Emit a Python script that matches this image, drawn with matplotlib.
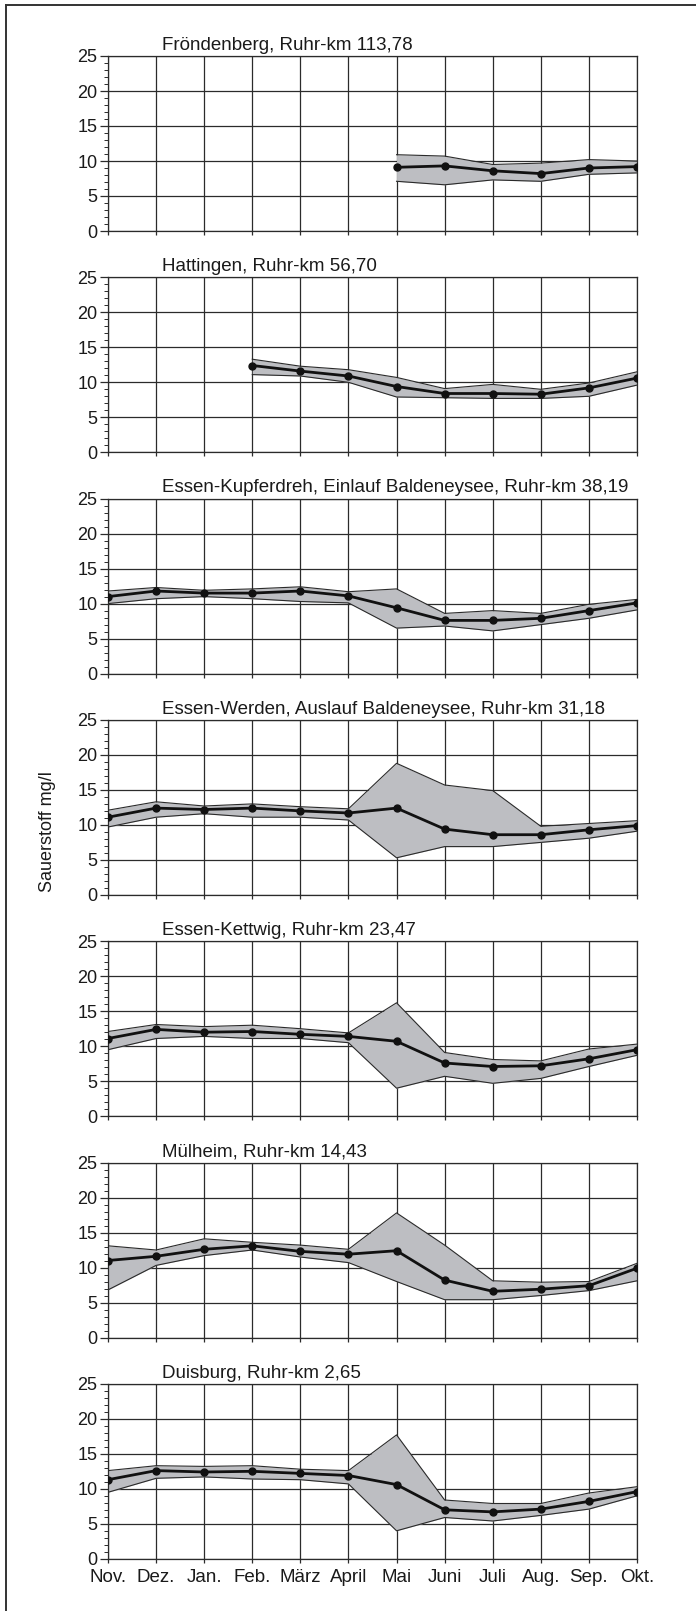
import matplotlib
matplotlib.use("Agg")
import matplotlib.pyplot as plt
from matplotlib.lines import Line2D
from matplotlib.ticker import MultipleLocator
import numpy as np

plt.rcParams['font.family'] = ['Liberation Sans', 'DejaVu Sans']

monate = ['Nov.', 'Dez.', 'Jan.', 'Feb.', 'März', 'April', 'Mai', 'Juni', 'Juli', 'Aug.', 'Sep.', 'Okt.']

# Messstellen (Titel) und Werte: Mittel, Maximum, Minimum  (None = keine Messung)
titel = [
    'Fröndenberg, Ruhr-km 113,78',
    'Hattingen, Ruhr-km 56,70',
    'Essen-Kupferdreh, Einlauf Baldeneysee, Ruhr-km 38,19',
    'Essen-Werden, Auslauf Baldeneysee, Ruhr-km 31,18',
    'Essen-Kettwig, Ruhr-km 23,47',
    'Mülheim, Ruhr-km 14,43',
    'Duisburg, Ruhr-km 2,65',
]

froendenberg_mittel = [None, None, None, None, None, None, 9.1, 9.3, 8.6, 8.2, 9.0, 9.2]
froendenberg_max = [None, None, None, None, None, None, 10.9, 10.7, 9.5, 9.7, 10.2, 10.0]
froendenberg_min = [None, None, None, None, None, None, 7.1, 6.6, 7.3, 7.1, 8.1, 8.3]

hattingen_mittel = [None, None, None, 12.4, 11.6, 10.9, 9.4, 8.4, 8.4, 8.3, 9.2, 10.6]
hattingen_max = [None, None, None, 13.3, 12.3, 11.8, 10.7, 9.1, 9.7, 9.0, 9.9, 11.5]
hattingen_min = [None, None, None, 11.1, 10.9, 10.0, 7.9, 7.8, 7.7, 7.7, 8.0, 9.6]

kupferdreh_mittel = [11.0, 11.8, 11.5, 11.5, 11.8, 11.1, 9.4, 7.6, 7.6, 7.9, 9.0, 10.1]
kupferdreh_max = [11.8, 12.3, 11.9, 12.1, 12.4, 11.7, 12.1, 8.6, 9.0, 8.6, 9.9, 10.6]
kupferdreh_min = [10.0, 10.7, 11.0, 10.7, 10.3, 10.1, 6.5, 6.8, 6.1, 7.0, 7.9, 9.1]

werden_mittel = [11.1, 12.4, 12.2, 12.4, 12.0, 11.7, 12.4, 9.4, 8.6, 8.6, 9.3, 9.9]
werden_max = [12.1, 13.3, 12.7, 13.0, 12.6, 12.3, 18.8, 15.7, 14.9, 9.8, 10.2, 10.6]
werden_min = [9.7, 11.1, 11.6, 11.1, 11.1, 10.7, 5.3, 6.9, 6.9, 7.5, 8.1, 9.1]

kettwig_mittel = [11.1, 12.4, 12.0, 12.1, 11.7, 11.4, 10.7, 7.6, 7.1, 7.2, 8.2, 9.5]
kettwig_max = [12.1, 13.1, 12.8, 13.0, 12.5, 11.9, 16.2, 9.1, 8.1, 7.9, 9.6, 10.3]
kettwig_min = [9.5, 11.1, 11.4, 11.1, 11.1, 10.5, 4.0, 5.7, 4.7, 5.4, 7.1, 8.7]

muelheim_mittel = [11.0, 11.6, 12.6, 13.1, 12.3, 11.9, 12.4, 8.2, 6.6, 6.9, 7.4, 9.9]
muelheim_max = [13.1, 12.5, 14.1, 13.6, 13.2, 12.6, 17.8, 13.2, 8.1, 7.9, 8.0, 10.6]
muelheim_min = [6.8, 10.3, 11.7, 12.5, 11.5, 10.7, 8.0, 5.4, 5.4, 6.0, 6.7, 8.1]

duisburg_mittel = [11.3, 12.6, 12.4, 12.5, 12.2, 11.9, 10.6, 7.0, 6.7, 7.1, 8.2, 9.6]
duisburg_max = [12.6, 13.3, 13.2, 13.3, 12.8, 12.6, 17.7, 8.4, 7.9, 7.9, 9.4, 10.3]
duisburg_min = [9.5, 11.5, 11.7, 11.4, 11.3, 10.7, 4.0, 5.9, 5.4, 6.2, 7.1, 9.0]

mittel = [froendenberg_mittel, hattingen_mittel, kupferdreh_mittel, werden_mittel,
          kettwig_mittel, muelheim_mittel, duisburg_mittel]
maxima = [froendenberg_max, hattingen_max, kupferdreh_max, werden_max,
          kettwig_max, muelheim_max, duisburg_max]
minima = [froendenberg_min, hattingen_min, kupferdreh_min, werden_min,
          kettwig_min, muelheim_min, duisburg_min]

W, H = 696, 1611
fig = plt.figure(figsize=(W / 100, H / 100), dpi=100)

links, rechts = 108, 637
oben0, schritt, hoehe = 56, 221.3, 175
x = np.arange(len(monate))

for i in range(len(titel)):
    oben = oben0 + schritt * i
    ax = fig.add_axes([links / W, 1 - (oben + hoehe) / H, (rechts - links) / W, hoehe / H])

    m = np.array([np.nan if v is None else v for v in mittel[i]])
    hi = np.array([np.nan if v is None else v for v in maxima[i]])
    lo = np.array([np.nan if v is None else v for v in minima[i]])
    ok = ~np.isnan(m)

    ax.fill_between(x[ok], lo[ok], hi[ok], color='#bdbec2', lw=0, zorder=2)
    ax.plot(x[ok], hi[ok], color='#2a2a2a', lw=0.8, zorder=3)
    ax.plot(x[ok], lo[ok], color='#2a2a2a', lw=0.8, zorder=3)
    ax.plot(x[ok], m[ok], color='#111111', lw=2.0, marker='o', ms=5, zorder=4)

    ax.set_xlim(0, 11)
    ax.set_ylim(0, 25)
    ax.set_xticks(x)
    ax.set_yticks([0, 5, 10, 15, 20, 25])
    ax.yaxis.set_minor_locator(MultipleLocator(1))
    ax.grid(True, color='#2b2b2b', lw=0.9, zorder=1)
    for s in ax.spines.values():
        s.set_color('#2b2b2b')
        s.set_linewidth(0.9)
    ax.tick_params(axis='y', which='major', length=6, width=0.9, color='#2b2b2b',
                   labelsize=13, pad=1.5, labelcolor='#1a1a1a')
    ax.tick_params(axis='y', which='minor', length=3, width=0.7, color='#2b2b2b')
    ax.tick_params(axis='x', length=3, width=0.9, color='#2b2b2b', labelsize=13.5,
                   labelcolor='#1a1a1a', pad=4)
    if i == len(titel) - 1:
        ax.set_xticklabels(monate)
    else:
        ax.set_xticklabels([])

    ax.annotate(titel[i], xy=(0.102, 1), xycoords='axes fraction', xytext=(0, 4.5),
                textcoords='offset points', ha='left', va='baseline', fontsize=13.5,
                color='#1a1a1a')

fig.text(48 / W, 1 - 832 / H, 'Sauerstoff mg/l', rotation=90, ha='center', va='center',
         fontsize=13, color='#1a1a1a')

# Rahmen oben und links
fig.add_artist(Line2D([6 / W, 1], [1 - 5 / H, 1 - 5 / H], transform=fig.transFigure,
                      color='#333333', lw=1.4))
fig.add_artist(Line2D([6 / W, 6 / W], [0, 1 - 5 / H], transform=fig.transFigure,
                      color='#333333', lw=1.4))

fig.savefig('out.png', dpi=100)
